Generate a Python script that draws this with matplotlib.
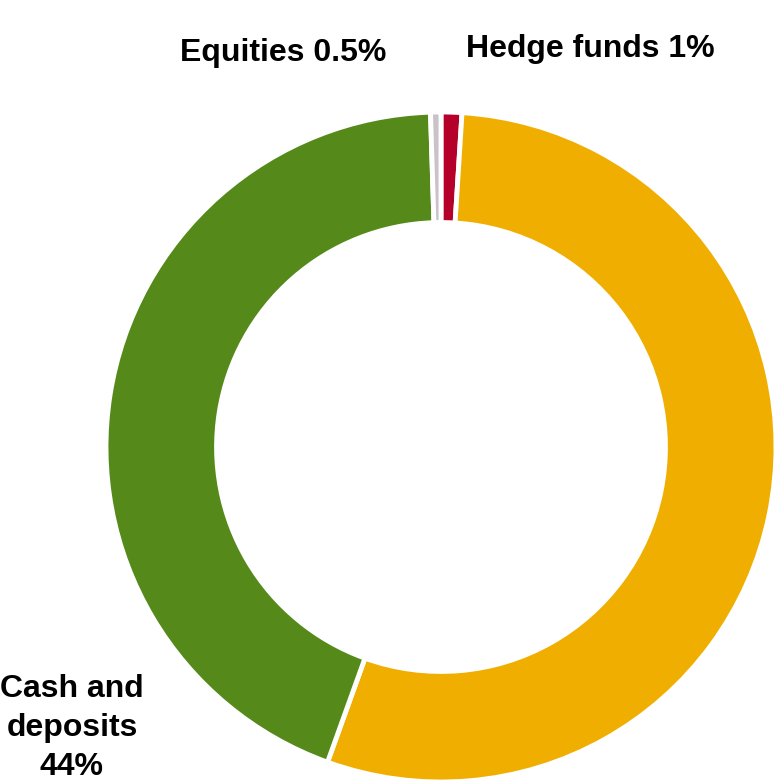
import matplotlib
matplotlib.use("Agg")
import matplotlib.pyplot as plt

categories = ["Hedge funds", "Other", "Cash and deposits", "Equities"]
shares = [1.0, 54.5, 44.0, 0.5]
colors = ["#B5002A", "#F0AE00", "#558A1A", "#C9C3C9"]
label_texts = ["Hedge funds 1%", None, "Cash and\ndeposits\n44%", "Equities 0.5%"]

W, H = 776, 784
fig = plt.figure(figsize=(W / 100, H / 100), dpi=100)
ax = fig.add_axes([0, 0, 1, 1])
cx, cy, R = 441, 447, 335
ax.pie(shares, colors=colors, startangle=90, counterclock=False, radius=R,
       wedgeprops=dict(width=R * 0.33, edgecolor="white", linewidth=3.5))
ax.set_xlim(-cx, W - cx)
ax.set_ylim(-(H - cy), cy)
ax.set_aspect("equal")
ax.axis("off")

font = dict(family="Liberation Sans", weight="bold", fontsize=23, color="black")
# top labels: baseline positions in pixels
ax.text(590 - cx, cy - 57, label_texts[0], ha="center", va="baseline", **font)
ax.text(283 - cx, cy - 61, label_texts[3], ha="center", va="baseline", **font)
ax.text(72 - cx, cy - 728, label_texts[2], ha="center", va="center",
        linespacing=1.37, **font)

fig.savefig("out.png", dpi=100)
